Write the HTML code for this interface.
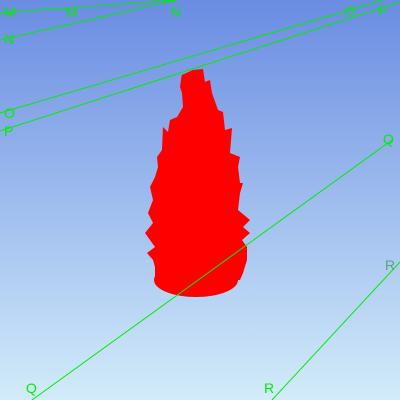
<!DOCTYPE html>
<html><head><meta charset="utf-8"><style>html,body{margin:0;padding:0;width:400px;height:400px;overflow:hidden}</style></head>
<body>
<svg width="400" height="400" viewBox="0 0 400 400" xmlns="http://www.w3.org/2000/svg" font-family="Liberation Sans, sans-serif">
<defs><linearGradient id="bg" x1="0" y1="0" x2="0" y2="1"><stop offset="0" stop-color="#6a8ce2"/><stop offset="1" stop-color="#d2ecfa"/></linearGradient></defs>
<rect width="400" height="400" fill="url(#bg)"/>
<g fill="#ff0000">
<ellipse cx="196" cy="280" rx="42" ry="17"/>
<polygon points="181.7,75 193,70 203,69 205,82 210,80 212,93 218,110 223,112 225,130 232,128 230,153 240,157 238,167 240,183 243,183 240,193 238,210 250,220 243,227 250,233 242,240 247,247 247,260 243,273 240,280 155,280 155,267 153,260 147,253 155,247 145,233 153,223 148,213 153,200 150,187 155,177 158,167 157,157 162,150 163,127 168,132 170,120 177,117 183,107 182,93 180,87"/>
</g>
<g stroke="#00ee00" stroke-width="1" fill="none">
<line x1="0" y1="13" x2="177" y2="0"/>
<line x1="0" y1="40" x2="177" y2="0"/>
<line x1="0" y1="113" x2="383" y2="0"/>
<line x1="0" y1="131" x2="400" y2="2"/>
<line x1="32" y1="400" x2="392" y2="140"/>
<line x1="272" y1="400" x2="400" y2="262"/>
</g>
<g fill="#00ee00" font-size="14">
<text x="4" y="17">M</text><text x="66" y="17">M</text><text x="171" y="17">N</text>
<text x="4" y="44">N</text><text x="345" y="16">O</text><text x="378" y="16">P</text>
<text x="4" y="118">O</text><text x="4" y="136">P</text>
<text x="383" y="144">Q</text><text x="26" y="393">Q</text>
<text x="385" y="270" fill="#60a080">R</text><text x="264" y="393">R</text>
</g>
</svg>
</body></html>
